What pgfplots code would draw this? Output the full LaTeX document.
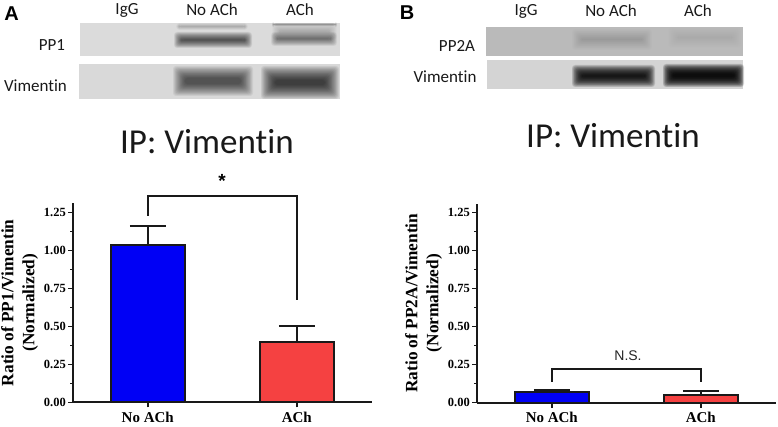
\documentclass[border=0pt]{standalone}
\usepackage{fontspec}
\usepackage{pgfplots}
\pgfplotsset{compat=1.18}
\setmainfont{Liberation Serif}
\newfontfamily\blotfont[Ligatures=NoCommon]{Carlito}
\newfontfamily\helv{Liberation Sans}
\definecolor{barblue}{RGB}{0,0,245}
\definecolor{barred}{RGB}{245,65,65}
\newcommand\band[6]{%
  \foreach \i in {0,...,15}{%
    \pgfmathsetmacro\dd{#5*\i/15}%
    \fill[black,opacity=#6,rounded corners=3pt] (#1+\dd,#2+\dd) rectangle (#3-\dd,#4-\dd);
  }}
\newcommand\blotlabel[4]{\node[font=\blotfont\fontsize{#3}{#3}\selectfont,text=black!90] at (#1,#2) {#4};}
\pgfplotsset{panel/.style={
  scale only axis, clip=false,
  width=298.7pt, height=199.1pt,
  xmin=-0.5, xmax=1.505, ymin=0, ymax=1.31,
  axis x line*=bottom, axis y line*=left,
  axis line style={line width=2pt,black!90},
  tick align=outside,
  major tick length=5pt, minor tick length=3pt,
  every tick/.style={line width=1.5pt,black!90},
  xtick={0,1}, xticklabels={No ACh,ACh},
  ytick={0,0.25,0.5,0.75,1,1.25}, minor y tick num=1,
  x tick label style={font=\bfseries\fontsize{15}{15}\selectfont, yshift=-1pt},
  y tick label style={font=\bfseries\fontsize{12.5}{12}\selectfont, /pgf/number format/assume math mode=true, /pgf/number format/fixed, /pgf/number format/fixed zerofill, /pgf/number format/precision=2, xshift=1pt},
  ylabel style={font=\bfseries\fontsize{17.3}{21}\selectfont, align=center, anchor=center, at={(axis description cs:-0.18,0.5)}},
},
  thebar/.style={ybar, bar shift=0pt, bar width=74pt, draw=black!90, line width=2pt, fill=#1,
    error bars/.cd, y dir=plus, y explicit,
    error bar style={line width=2pt,black!90},
    error mark options={rotate=90,mark size=18pt,line width=2pt,black!90}},
  bracket/.style={black!90,line width=2pt,mark=none,sharp plot}
}
\begin{document}
\begin{tikzpicture}
\path[use as bounding box] (0pt,0pt) rectangle (778pt,-427pt);
\fill[white] (0pt,0pt) rectangle (778pt,-427pt);
\begin{scope}[x=1pt,y=-1pt]
% panel A blots
\fill[black!14] (80,23) rectangle (340,56.5);
\fill[black!15] (79,64.5) rectangle (340,99);
\band{174}{32}{252}{48}{7.5}{0.055}
\band{271}{32}{337}{46}{6.5}{0.036}
\band{272}{23}{337}{40}{8}{0.012}
\band{176}{23}{248}{30}{3.4}{0.012}
\band{272}{23}{337}{26}{1.4}{0.02}
\band{173}{66}{253}{96}{12}{0.055}
\band{261}{66}{339}{99}{14}{0.07}
% panel B blots
\fill[black!27] (486,27) rectangle (743,56);
\fill[black!17] (487,60) rectangle (743,89);
\band{572}{29}{652}{50}{10}{0.008}
\band{668}{27}{742}{48}{10}{0.005}
\band{572}{65}{655}{87}{10}{0.12}
\band{663}{64}{744}{87}{10}{0.15}
% texts
\node[font=\helv\bfseries\fontsize{20}{20}\selectfont] at (11.5,14) {A};
\node[font=\helv\bfseries\fontsize{20}{20}\selectfont] at (407,13) {B};
\blotlabel{127}{10}{17}{IgG}
\blotlabel{212}{10}{17}{No ACh}
\blotlabel{300}{10}{17}{ACh}
\blotlabel{52}{45}{17}{PP1}
\blotlabel{35.5}{86}{17}{Vimentin}
\blotlabel{526}{11}{17}{IgG}
\blotlabel{611}{11}{17}{No ACh}
\blotlabel{698}{11}{17}{ACh}
\blotlabel{457}{46}{17}{PP2A}
\blotlabel{445}{77}{17}{Vimentin}
\blotlabel{207}{142}{35}{IP: Vimentin}
\blotlabel{613}{136}{35}{IP: Vimentin}
\node[font=\helv\bfseries\fontsize{19}{19}\selectfont] at (222,181) {*};
\node[font=\helv\fontsize{14}{14}\selectfont,text=black!85] at (628,356) {N.S.};
\end{scope}
% panel A plot
\begin{axis}[panel, at={(73.3pt,-402.3pt)}, anchor=south west,
  ylabel={Ratio of PP1/Vimentin\\(Normalized)}]
\addplot[thebar=barblue] coordinates {(0,1.035) +- (0,0.125)};
\addplot[thebar=barred] coordinates {(1,0.395) +- (0,0.105)};
\addplot[bracket] coordinates {(0,1.226) (0,1.36) (1,1.36) (1,0.672)};
\end{axis}
% panel B plot
\begin{axis}[panel, at={(477.3pt,-402.7pt)}, anchor=south west, width=298.4pt, xmax=1.503,
  ylabel={Ratio of PP2A/Vimentin\\(Normalized)}]
\addplot[thebar=barblue] coordinates {(0,0.07) +- (0,0.015)};
\addplot[thebar=barred] coordinates {(1,0.05) +- (0,0.025)};
\addplot[bracket] coordinates {(0,0.137) (0,0.22) (1,0.22) (1,0.137)};
\end{axis}
\end{tikzpicture}
\end{document}
